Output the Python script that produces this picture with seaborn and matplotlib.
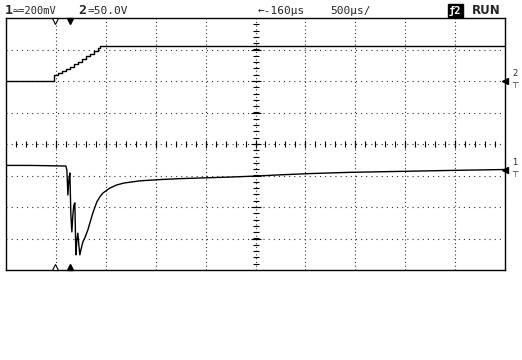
import numpy as np
import pandas as pd
import matplotlib
matplotlib.use("Agg")
import matplotlib.pyplot as plt
import seaborn as sns

sns.set_theme(style="white")
plt.rcParams['font.family'] = ['DejaVu Sans']
plt.rcParams['lines.scale_dashes'] = False

# ---------------- data (time in microseconds from left edge, amplitude in screen divisions)
ch1_time_us = [0, 240, 440, 600, 610, 620, 630, 640, 650, 660, 670, 680, 690, 700,
               710, 720, 730, 740, 750, 770, 790, 820, 840, 870, 910, 940, 970, 1040,
               1110, 1180, 1340, 1540, 1740, 1940, 2240, 2490, 2740, 3040, 3440, 3940,
               4440, 5000]
ch1_div = [-0.68, -0.68, -0.69, -0.70, -0.83, -1.62, -1.14, -0.92, -2.25, -2.79, -2.25,
           -1.94, -1.87, -3.52, -3.05, -2.83, -3.21, -3.52, -3.37, -3.11, -2.98, -2.73,
           -2.51, -2.19, -1.84, -1.68, -1.56, -1.40, -1.30, -1.24, -1.17, -1.13, -1.10,
           -1.08, -1.05, -1.02, -0.98, -0.94, -0.90, -0.87, -0.84, -0.81]

ch2_time_us = [0, 120, 240, 360, 481, 521, 561, 601, 641, 681, 721, 762, 802, 842, 882,
               922, 942, 1500, 2500, 3500, 4500, 5000]
ch2_div = [2.00, 2.01, 1.99, 2.00, 2.19, 2.25, 2.32, 2.38, 2.44, 2.54, 2.60, 2.70, 2.78,
           2.86, 2.95, 3.05, 3.11, 3.10, 3.11, 3.10, 3.11, 3.11]

ch1_scale = "200mV"
ch2_scale = "50.0V"
delay_text = "\u2190-160\u00b5s"
timebase_text = "500\u00b5s/"
run_text = "RUN"
trigger_time_us = 640
delay_ref_us = 490
ch1_marker_div = -0.81
ch2_marker_div = 2.0

W, H = 522, 360
fig = plt.figure(figsize=(W / 100, H / 100), dpi=100)
fig.patch.set_facecolor("white")
ax = fig.add_axes([6 / W, 90 / H, 499 / W, 252 / H])
ax.set_xlim(0, 5000)
ax.set_ylim(-4, 4)
ax.set_facecolor("white")
for s in ax.spines.values():
    s.set_color("black")
    s.set_linewidth(1.0)
ax.set_xticks([])
ax.set_yticks([])

# graticule
for i in range(1, 10):
    ax.axvline(i * 500, color="#333333", lw=0.8, ls=(0, (0.8, 1.9)), zorder=1)
for j in range(-3, 4):
    ax.axhline(j, color="#333333", lw=0.8, ls=(0, (0.8, 2.9)), zorder=1)

# center cross ticks
xt_minor = np.arange(100, 5000, 100)
ax.plot(xt_minor, np.zeros_like(xt_minor), ls="none", marker="|", ms=4, mew=0.8,
        color="black", zorder=2)
xt_major = np.arange(500, 5000, 500)
ax.plot(xt_major, np.zeros_like(xt_major), ls="none", marker="|", ms=6, mew=0.8,
        color="black", zorder=2)
yt_minor = np.arange(-3.8, 4.0, 0.2)
ax.plot(np.full_like(yt_minor, 2500), yt_minor, ls="none", marker="_", ms=4, mew=0.8,
        color="black", zorder=2)
yt_major = np.arange(-3, 4, 1)
ax.plot(np.full(len(yt_major), 2500), yt_major, ls="none", marker="_", ms=7, mew=0.8,
        color="black", zorder=2)

# traces
df1 = pd.DataFrame({"t": ch1_time_us, "v": ch1_div})
df2 = pd.DataFrame({"t": ch2_time_us, "v": ch2_div})
sns.lineplot(data=df2, x="t", y="v", ax=ax, color="black", lw=1.0, estimator=None,
             sort=False, drawstyle="steps-post", zorder=3, legend=False)
sns.lineplot(data=df1, x="t", y="v", ax=ax, color="black", lw=1.0, estimator=None,
             sort=False, zorder=3, legend=False)
ax.set_xlabel("")
ax.set_ylabel("")

# trigger markers
ax.plot([delay_ref_us], [3.9], marker="v", ms=5, mfc="white", mec="black", mew=0.8,
        clip_on=False, zorder=4)
ax.plot([trigger_time_us], [3.92], marker="v", ms=5, color="black", clip_on=False, zorder=4)
ax.plot([delay_ref_us], [-3.9], marker="^", ms=5, mfc="white", mec="black", mew=0.8,
        clip_on=False, zorder=4)
ax.plot([trigger_time_us], [-3.92], marker="^", ms=5, color="black", clip_on=False, zorder=4)

# channel reference markers on right
for lvl, lab in [(ch1_marker_div, "1"), (ch2_marker_div, "2")]:
    ax.plot([5000], [lvl], marker="<", ms=4.5, color="black", clip_on=False, zorder=5)
    ax.annotate(lab, (5000, lvl), xytext=(7, 3), textcoords="offset pixels",
                fontsize=6, ha="left", va="bottom", annotation_clip=False)
    ax.annotate("\u22a4", (5000, lvl), xytext=(6, 0), textcoords="offset pixels",
                fontsize=6, ha="left", va="top", annotation_clip=False)

# header texts
def ftxt(x, y, s, **kw):
    fig.text(x / W, 1 - y / H, s, va="baseline", ha="left", **kw)

mono = "DejaVu Sans Mono"
ftxt(5, 13.5, "1", fontsize=9.5, fontweight="bold", family=mono)
ftxt(13, 13.5, "\u2243=" + ch1_scale, fontsize=7.5, family=mono)
ftxt(78, 13.5, "2", fontsize=9.5, fontweight="bold", family=mono)
ftxt(88, 13.5, "=" + ch2_scale, fontsize=8, family=mono)
ftxt(258, 13.5, delay_text, fontsize=8, family=mono)
ftxt(330, 13.5, timebase_text, fontsize=8, family=mono)
fig.text(449 / W, 1 - 13.5 / H, "\u01922", va="baseline", ha="left", fontsize=7.5,
         fontweight="bold", color="white", family=mono,
         bbox=dict(boxstyle="square,pad=0.12", fc="black", ec="black"))
ftxt(472, 13.5, run_text, fontsize=8.5, fontweight="bold")

fig.savefig("out.png", dpi=100, facecolor="white")
